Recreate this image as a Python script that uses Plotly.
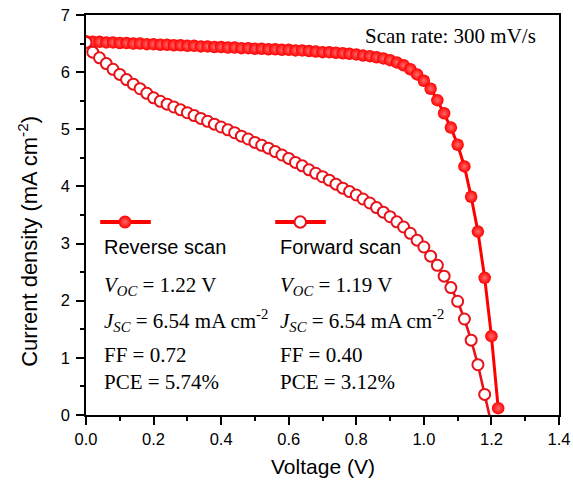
import plotly.graph_objects as go

# J-V data of the device, swept in 0.02 V steps
voltage_reverse = [round(0.02 * i, 2) for i in range(62)]
current_reverse = [
    6.54, 6.53, 6.53, 6.52, 6.52, 6.51, 6.51, 6.50, 6.50, 6.49,
    6.49, 6.48, 6.48, 6.47, 6.47, 6.46, 6.46, 6.45, 6.45, 6.44,
    6.44, 6.43, 6.43, 6.42, 6.42, 6.41, 6.41, 6.40, 6.40, 6.39,
    6.39, 6.38, 6.38, 6.37, 6.36, 6.35, 6.35, 6.34, 6.33, 6.32,
    6.31, 6.29, 6.28, 6.26, 6.24, 6.21, 6.17, 6.12, 6.05, 5.96,
    5.85, 5.71, 5.51, 5.28, 5.03, 4.73, 4.35, 3.82, 3.21, 2.40,
    1.38, 0.12,
]

voltage_forward = [round(0.02 * i, 2) for i in range(61)]
current_forward = [
    6.52, 6.35, 6.25, 6.15, 6.05, 5.96, 5.87, 5.79, 5.71, 5.63,
    5.55, 5.49, 5.44, 5.39, 5.34, 5.29, 5.24, 5.19, 5.14, 5.09,
    5.04, 4.99, 4.94, 4.88, 4.83, 4.77, 4.72, 4.67, 4.61, 4.55,
    4.49, 4.42, 4.36, 4.29, 4.23, 4.17, 4.11, 4.04, 3.97, 3.91,
    3.85, 3.78, 3.71, 3.63, 3.55, 3.47, 3.38, 3.29, 3.18, 3.06,
    2.94, 2.78, 2.62, 2.43, 2.23, 1.99, 1.68, 1.31, 0.88, 0.36,
    -0.16,
]

x_ticks = [0.0, 0.2, 0.4, 0.6, 0.8, 1.0, 1.2, 1.4]
y_ticks = [0, 1, 2, 3, 4, 5, 6, 7]

series_names = ["Reverse scan", "Forward scan"]
reverse_params = ["1.22 V", "6.54 mA cm<sup>-2</sup>", "0.72", "5.74%"]
forward_params = ["1.19 V", "6.54 mA cm<sup>-2</sup>", "0.40", "3.12%"]
scan_rate = "Scan rate: 300 mV/s"
x_title = "Voltage (V)"
y_title = "Current density (mA cm<sup>-2</sup>)"

RED = "#ff0000"
RED_EDGE = "#e8121a"
SANS = "Liberation Sans, Arial, sans-serif"
SERIF = "Liberation Serif, Times New Roman, serif"

filled_marker = dict(size=12.5, color=RED, symbol="circle",
                     gradient=dict(type="radial", color="#ff6a6a"),
                     line=dict(width=0))
open_marker = dict(size=11, color="white", symbol="circle",
                   line=dict(width=2, color=RED_EDGE))

fig = go.Figure()

fig.add_trace(go.Scatter(
    x=voltage_reverse, y=current_reverse, mode="lines+markers",
    line=dict(color=RED, width=3), marker=filled_marker,
    name=series_names[0], showlegend=False,
))
fig.add_trace(go.Scatter(
    x=voltage_forward, y=current_forward, mode="lines+markers",
    line=dict(color=RED_EDGE, width=2.6), marker=open_marker,
    name=series_names[1], showlegend=False,
))

# legend keys on a hidden unit overlay axis (line with a marker in the middle)
key_y = 0.4825
for (x0, xm, x1), mk in (((0.030, 0.0825, 0.137), filled_marker),
                         ((0.400, 0.4530, 0.507), open_marker)):
    fig.add_trace(go.Scatter(
        x=[x0, x1], y=[key_y, key_y], mode="lines", xaxis="x2", yaxis="y2",
        line=dict(color=RED, width=4), showlegend=False, hoverinfo="skip",
    ))
    fig.add_trace(go.Scatter(
        x=[xm], y=[key_y], mode="markers", xaxis="x2", yaxis="y2",
        marker={**mk, "size": mk["size"] + 0.5}, showlegend=False,
        hoverinfo="skip", cliponaxis=False,
    ))

annotations = []
label_rows = [0.322, 0.237, 0.15, 0.083]
prefixes = ["<i>V</i><sub><i>OC</i></sub> = ", "<i>J</i><sub><i>SC</i></sub> = ",
            "FF = ", "PCE = "]
for col_x, name, params in ((0.034, series_names[0], reverse_params),
                            (0.406, series_names[1], forward_params)):
    annotations.append(dict(
        x=col_x, y=0.419, xref="paper", yref="paper", text=name,
        showarrow=False, xanchor="left", yanchor="middle",
        font=dict(family=SANS, size=20, color="black"),
    ))
    for row_y, pre, val in zip(label_rows, prefixes, params):
        annotations.append(dict(
            x=col_x, y=row_y, xref="paper", yref="paper", text=pre + val,
            showarrow=False, xanchor="left", yanchor="middle",
            font=dict(family=SERIF, size=21, color="black"),
        ))

annotations.append(dict(
    x=0.956, y=0.9475, xref="paper", yref="paper", text=scan_rate,
    showarrow=False, xanchor="right", yanchor="middle",
    font=dict(family=SERIF, size=21, color="black"),
))

# axis titles
annotations.append(dict(
    x=0.5, y=-0.13, xref="paper", yref="paper", text=x_title,
    showarrow=False, xanchor="center", yanchor="middle",
    font=dict(family=SANS, size=21, color="black"),
))
annotations.append(dict(
    x=-0.123, y=0.435, xref="paper", yref="paper", text=y_title,
    showarrow=False, xanchor="center", yanchor="middle", textangle=-90,
    font=dict(family=SANS, size=22, color="black"),
))

axis_common = dict(
    showgrid=False, zeroline=False, showline=True, mirror=True,
    automargin=False,
    linecolor="black", linewidth=1.5, ticks="outside", ticklen=8,
    tickwidth=1.5, tickcolor="black",
    tickfont=dict(family=SANS, size=16.5, color="black"),
)

fig.update_layout(
    width=573, height=488,
    margin=dict(l=86, r=14, t=15, b=73),
    paper_bgcolor="white", plot_bgcolor="white",
    showlegend=False,
    annotations=annotations,
    xaxis=dict(
        **axis_common, range=[0, 1.4], tickvals=x_ticks,
        ticktext=[f"{v:.1f}" for v in x_ticks],
        minor=dict(ticks="outside", ticklen=4, tickwidth=1.5,
                   tickcolor="black", dtick=0.1),
    ),
    yaxis=dict(
        **axis_common, range=[0, 7], tickvals=y_ticks,
        ticktext=[str(v) for v in y_ticks], ticklabelstandoff=3,
        minor=dict(ticks="outside", ticklen=4, tickwidth=1.5,
                   tickcolor="black", dtick=0.5),
    ),
    xaxis2=dict(overlaying="x", range=[0, 1], visible=False),
    yaxis2=dict(overlaying="y", range=[0, 1], visible=False),
)

fig.write_html("out.html")
